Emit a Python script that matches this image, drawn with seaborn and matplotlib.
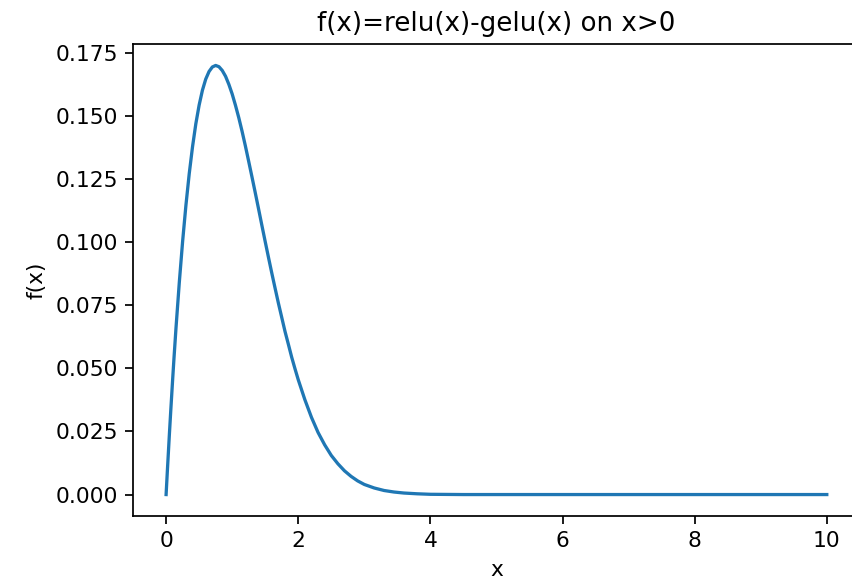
import matplotlib
matplotlib.use("Agg")
import matplotlib.pyplot as plt
import seaborn as sns
import pandas as pd

x_vals = [0.0, 0.02, 0.05, 0.07, 0.1, 0.12, 0.15, 0.2, 0.25, 0.3, 0.35, 0.4, 0.45, 0.5, 0.55,
          0.6, 0.65, 0.7, 0.75, 0.8, 0.85, 0.9, 0.95, 1.0, 1.05, 1.1, 1.15, 1.2, 1.25, 1.3,
          1.35, 1.4, 1.45, 1.5, 1.55, 1.6, 1.65, 1.7, 1.75, 1.8, 1.85, 1.9, 1.95, 2.0,
          2.1, 2.2, 2.3, 2.4, 2.5, 2.6, 2.7, 2.8, 2.9, 3.0, 3.15, 3.3, 3.45, 3.6, 3.8,
          4.0, 4.5, 5.0, 6.0, 7.0, 8.0, 9.0, 10.0]
f_vals = [0.0, 0.0098, 0.0240, 0.0330, 0.0460, 0.0543, 0.0661, 0.0841, 0.1003, 0.1146,
          0.1271, 0.1378, 0.1469, 0.1543, 0.1602, 0.1646, 0.1676, 0.1694, 0.1700, 0.1695,
          0.1680, 0.1657, 0.1625, 0.1587, 0.1542, 0.1493, 0.1439, 0.1381, 0.1320, 0.1258,
          0.1195, 0.1131, 0.1066, 0.1002, 0.0939, 0.0877, 0.0817, 0.0758, 0.0702, 0.0646,
          0.0596, 0.0545, 0.0499, 0.0455, 0.0376, 0.0306, 0.0246, 0.0197, 0.0155, 0.0122,
          0.0094, 0.0072, 0.0054, 0.0040, 0.0026, 0.0016, 0.0010, 0.0006, 0.0003,
          0.0001, 0.0000, 0.0, 0.0, 0.0, 0.0, 0.0, 0.0]

df = pd.DataFrame({"x": x_vals, "f(x)": f_vals})

s = 1.57
plt.rcParams.update({
    "axes.linewidth": 0.8 * s,
    "xtick.major.width": 0.8 * s, "ytick.major.width": 0.8 * s,
    "xtick.major.size": 3.5 * s, "ytick.major.size": 3.5 * s,
    "xtick.major.pad": 3.5 * s, "ytick.major.pad": 3.5 * s,
    "axes.titlepad": 6 * s, "axes.labelpad": 4 * s,
})

fig, ax = plt.subplots(figsize=(8.53, 5.79), dpi=100)
fig.subplots_adjust(left=0.156, right=1.008, top=0.924, bottom=0.1088)
sns.lineplot(data=df, x="x", y="f(x)", ax=ax, color="#1f77b4", linewidth=1.5 * s)
ax.set_title("f(x)=relu(x)-gelu(x) on x>0", fontsize=12 * s)
ax.set_xlabel("x", fontsize=10 * s)
ax.set_ylabel("f(x)", fontsize=10 * s)
ax.tick_params(labelsize=10 * s)
ax.set_xticks([0, 2, 4, 6, 8, 10])
ax.set_yticks([0.0, 0.025, 0.05, 0.075, 0.1, 0.125, 0.15, 0.175])
ax.set_yticklabels(["0.000", "0.025", "0.050", "0.075", "0.100", "0.125", "0.150", "0.175"])
fig.savefig("out.png", dpi=100)
